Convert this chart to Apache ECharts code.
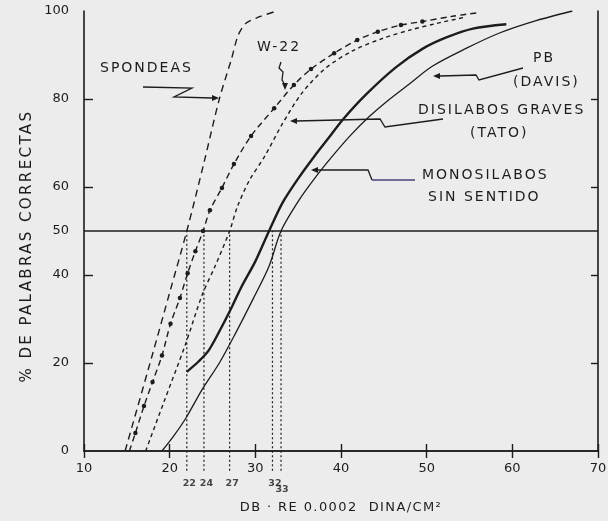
<!DOCTYPE html>
<html><head><meta charset="utf-8">
<script src="https://cdn.jsdelivr.net/npm/echarts@6/dist/echarts.min.js"></script>
<style>html,body{margin:0;padding:0;background:#ececec}#c{width:608px;height:521px}</style>
</head><body><div id="c"></div>
<script>
// ---------- data ----------
const xTickLabels = [10, 20, 30, 40, 50, 60, 70];
const yTickLabels = [0, 20, 40, 50, 60, 80, 100];
const yMinorTicks = [20, 40, 60, 80];
const srtValues = [22, 24, 27, 32, 33];
const halfLevel = 50;

const spondeas = [[14.8,0],[18,22],[20,36],[22,50],[24,65.5],[25.8,80],[27.2,89],[28,94.5],[28.9,97.2],[30.5,98.7],[32.5,100]];
const w22 = [[15.3,0],[16,4.1],[17,10.2],[18,15.7],[19.1,21.7],[20.1,28.9],[21.2,34.8],[22.1,40.4],[23,45.4],[23.9,50],[24.7,54.7],[26.1,59.8],[27.5,65.2],[29.5,71.6],[32.2,77.9],[34.5,83.2],[36.5,86.8],[39.2,90.4],[41.9,93.4],[44.3,95.3],[47,96.8],[49.5,97.6],[53,98.8],[56,99.6]];
const disilabos = [[17.2,0],[19.3,11],[21.8,24],[23.8,35.5],[25.3,42],[27,50],[27.9,55.5],[29.3,61.5],[31.1,67],[33.2,74.5],[35.5,81.5],[38.2,87],[41.4,91],[44.9,93.8],[48.1,95.7],[51.2,97.2],[54.5,98.6]];
const monosilabos = [[22,18],[23.4,20.4],[24.6,23],[26.1,28.3],[27.3,32.9],[28.4,37.4],[30,43.1],[31.6,50],[33.2,56.5],[35.1,62.2],[36.9,67],[38.5,71],[40.2,75.3],[42.9,81],[46.4,87.2],[49.6,91.5],[52.3,94],[55.4,96],[59.3,97]];
const pbDavis = [[19.1,0],[20.5,3.5],[21.9,7.5],[23.8,14],[25.8,20],[27.7,26.8],[29.7,34.4],[31.6,42],[33,50],[35.1,57],[37.1,62.4],[39,67],[41,71.5],[43.3,76],[45.7,80],[47.7,83],[50.7,87.5],[54.6,91.5],[58.5,95],[62.4,97.6],[67,100]];

// ---------- letter spacing helper (fake family names select spacing) ----------
(function(){
  const P = CanvasRenderingContext2D.prototype;
  const f = P.fillText;
  P.fillText = function(t, x, y, m){
    if ('letterSpacing' in this) {
      const fnt = this.font || '';
      this.letterSpacing = /Verdana/.test(fnt) ? '2px' : /Tahoma/.test(fnt) ? '2.4px' : /Geneva/.test(fnt) ? '1.4px' : '0px';
    }
    return m === undefined ? f.call(this, t, x, y) : f.call(this, t, x, y, m);
  };
})();

const INK = '#1c1c1c';
const FF = 'DejaVu Sans';
const FF_A = 'Verdana, DejaVu Sans';
const FF_Y = 'Tahoma, DejaVu Sans';
const FF_X = 'Geneva, DejaVu Sans';

function curve(name, data, dash, width, extra) {
  return Object.assign({
    name, type: 'line', data, smooth: 0.3,
    symbol: 'none', silent: true, animation: false,
    lineStyle: { color: INK, width, type: dash }
  }, extra || {});
}

const series = [
  curve('SPONDEAS', spondeas, [7, 5], 1.4),
  curve('W-22', w22.map((p, i) => (i === 0 || i >= w22.length - 2) ? { value: p, symbol: 'none' } : p), [6, 4], 1.4,
    { symbol: 'circle', symbolSize: 4.5, itemStyle: { color: INK }, showSymbol: true }),
  curve('DISILABOS GRAVES (TATO)', disilabos, [4, 3.5], 1.4),
  curve('MONOSILABOS SIN SENTIDO', monosilabos, 'solid', 2.4),
  curve('PB (DAVIS)', pbDavis, 'solid', 1.3, {
    markLine: { silent: true, symbol: 'none', animation: false, label: { show: false },
      lineStyle: { color: INK, width: 1.6, type: 'solid' }, data: [{ yAxis: halfLevel }] }
  })
];
srtValues.forEach(v => {
  series.push({ type: 'line', data: [[v, -4.5], [v, halfLevel]], clip: false, symbol: 'none', silent: true,
    animation: false, lineStyle: { color: INK, width: 1.2, type: [2, 2.5] } });
});
series.push({
  type: 'scatter', clip: false, silent: true, animation: false, symbolSize: 0,
  data: srtValues.map(v => ({ value: [v, -7.4], label: { offset: v === 33 ? [1, 6] : [2.5, 0] } })),
  label: { show: true, position: 'inside', formatter: p => String(p.value[0]), color: INK,
    fontSize: 9.5, fontWeight: 'bold', fontFamily: FF }
});

const tickStyle = { color: INK, width: 1.4 };
const option = {
  backgroundColor: '#ececec',
  animation: false,
  grid: { left: 84, right: 10, top: 11, bottom: 70, outerBoundsMode: 'none' },
  xAxis: [
    { type: 'value', min: 10, max: 70, interval: 10, position: 'bottom',
      axisLine: { show: true, lineStyle: { color: INK, width: 1.6 } },
      axisTick: { show: true, inside: true, length: 7, lineStyle: tickStyle },
      axisLabel: { margin: 11, fontSize: 13, color: INK, fontFamily: FF, customValues: xTickLabels },
      splitLine: { show: false },
      name: 'DB · RE 0.0002  DINA/CM²', nameLocation: 'middle', nameGap: 50,
      nameTextStyle: { fontSize: 13, color: INK, fontFamily: FF_X } },
    { type: 'value', min: 10, max: 70, interval: 10, position: 'top',
      axisLine: { show: true, lineStyle: { color: INK, width: 1.6 } },
      axisTick: { show: true, inside: true, length: 7, lineStyle: tickStyle },
      axisLabel: { show: false }, splitLine: { show: false } }
  ],
  yAxis: [
    { type: 'value', min: 0, max: 100, position: 'left',
      axisLine: { show: true, lineStyle: { color: INK, width: 1.6 } },
      axisTick: { show: true, inside: true, length: 9, lineStyle: tickStyle, customValues: yMinorTicks },
      axisLabel: { margin: 15, fontSize: 13, color: INK, fontFamily: FF, customValues: yTickLabels },
      splitLine: { show: false } },
    { type: 'value', min: 0, max: 100, position: 'right',
      axisLine: { show: true, lineStyle: { color: INK, width: 1.6 } },
      axisTick: { show: true, inside: true, length: 7, lineStyle: tickStyle, customValues: yMinorTicks },
      axisLabel: { show: false }, splitLine: { show: false } }
  ],
  series
};

const chart = echarts.init(document.getElementById('c'), null, { renderer: 'canvas' });
chart.setOption(option);

// ---------- annotations ----------
function txt(s, x, y, size, fam) {
  return { type: 'text', silent: true, x, y, style: { text: s, fill: INK, fontSize: size || 14, fontFamily: fam || FF_A, verticalAlign: 'middle', align: 'left' } };
}
function pl(pts, color, w) {
  return { type: 'polyline', silent: true, shape: { points: pts }, style: { stroke: color || INK, lineWidth: w || 1.3, fill: null } };
}
function head(tip, dir) {
  const [x, y] = tip; const d = dir === 'left' ? 1 : -1;
  return { type: 'polygon', silent: true, shape: { points: [[x, y], [x + d * 7, y - 3], [x + d * 7, y + 3]] }, style: { fill: INK } };
}
function headDown(tip) {
  const [x, y] = tip;
  return { type: 'polygon', silent: true, shape: { points: [[x, y], [x - 3, y - 7], [x + 3, y - 7]] }, style: { fill: INK } };
}
const g = [
  { type: 'text', silent: true, x: 27, y: 246, rotation: Math.PI / 2,
    style: { text: '% DE PALABRAS CORRECTAS', fill: INK, fontSize: 15, fontFamily: FF_Y, align: 'center', verticalAlign: 'middle' } },
  txt('SPONDEAS', 100, 68),
  pl([[143, 87], [192, 88], [174, 97], [212, 98]]), head([219, 98], 'right'),
  txt('W-22', 257, 47),
  pl([[281, 62], [279, 68], [283, 72], [282, 80], [284, 83]]), headDown([285, 90]),
  txt('PB', 533, 58),
  txt('(DAVIS)', 513, 82),
  pl([[440, 76], [476, 75], [479, 80], [523, 68]]), head([433, 76], 'left'),
  txt('DISILABOS GRAVES', 418, 110),
  txt('(TATO)', 470, 133),
  pl([[296, 121], [380, 119], [385, 127], [443, 119]]), head([290, 121], 'left'),
  txt('MONOSILABOS', 422, 175),
  txt('SIN SENTIDO', 428, 197),
  pl([[318, 170], [368, 170], [372, 180]]), pl([[372, 180], [415, 180]], '#4c3f78', 1.3), head([311, 170], 'left')
];
chart.setOption({ graphic: { elements: g } });
</script>
</body></html>
